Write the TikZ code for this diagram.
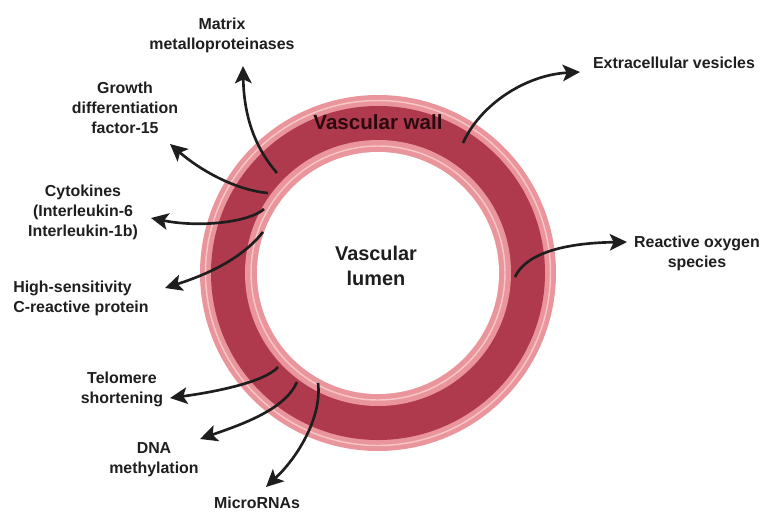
\documentclass[tikz,border=0pt]{standalone}
\usepackage{fontspec}
\setmainfont{Liberation Sans}
\usepackage{xcolor}
\definecolor{wallRed}{HTML}{B03A4D}
\definecolor{wallPink}{HTML}{E9959B}
\definecolor{wallLight}{HTML}{F7C6C6}
\definecolor{wallText}{HTML}{2A0A0F}
\definecolor{ink}{HTML}{1E1E1E}
\usetikzlibrary{arrows.meta,positioning}

\begin{document}
\begin{tikzpicture}[x=0.0265cm,y=-0.0265cm,
  lbl/.style={align=center,font=\bfseries\fontsize{12}{15}\selectfont,text=ink,inner sep=0pt},
  arr/.style={-{Stealth[length=13pt,width=12.5pt,inset=3pt]},line width=2pt,draw=ink}
]
\useasboundingbox (0,0) rectangle (766,513);
% vessel cross-section
\coordinate (c) at (378,273);
\fill[wallPink] (c) circle[radius=178];
\draw[wallLight,line width=1.1pt] (c) circle[radius=172.5];
\fill[wallRed] (c) circle[radius=167];
\fill[wallPink] (c) circle[radius=133];
\draw[wallLight,line width=1.1pt] (c) circle[radius=127];
\fill[white] (c) circle[radius=121];
\node[font=\bfseries\fontsize{15.5}{18}\selectfont,text=wallText] (wall) at (378,122) {Vascular wall};
\node[lbl,font=\bfseries\fontsize{15}{19}\selectfont] (lumen) at (376,266) {Vascular\\lumen};

% markers
\node[lbl] (mmp) at (222,35) {Matrix\\metalloproteinases};
\node[lbl] (gdf) at (125,108) {Growth\\differentiation\\factor-15};
\node[lbl] (cyto) at (83,212) {Cytokines\\(Interleukin-6\\Interleukin-1b)};
\node[lbl,align=left,anchor=west] (crp) at (13,298) {High-sensitivity\\C-reactive protein};
\node[lbl] (telo) at (122,389) {Telomere\\shortening};
\node[lbl] (dna) at (154,460) {DNA\\methylation};
\node[lbl] (mirna) at (257,503) {MicroRNAs};
\node[lbl] (ev) at (674,63) {Extracellular vesicles};
\node[lbl] (ros) at (697,253) {Reactive oxygen\\species};

% arrow ends (start in the wall, tip near the label)
\coordinate (mmpS) at (277,173);  \coordinate (mmpT) at (243,66);
\coordinate (gdfS) at (268,193);  \coordinate (gdfT) at (170,144);
\coordinate (cytoS) at (264,209); \coordinate (cytoT) at (151,218);
\coordinate (crpS) at (263,232);  \coordinate (crpT) at (165,288);
\coordinate (evS) at (463,143);   \coordinate (evT) at (580,72);
\coordinate (rosS) at (515,277);  \coordinate (rosT) at (627,242);
\coordinate (teloS) at (278,367); \coordinate (teloT) at (170,398);
\coordinate (dnaS) at (297,382);  \coordinate (dnaT) at (200,439);
\coordinate (mirS) at (318,383);  \coordinate (mirT) at (266,487);

\draw[arr] (mmpS) .. controls (257,150) and (244,120) .. (mmpT);
\draw[arr] (gdfS) .. controls (235,190) and (200,170) .. (gdfT);
\draw[arr] (cytoS) .. controls (250,222) and (200,228) .. (cytoT);
\draw[arr] (crpS) .. controls (245,255) and (215,272) .. (crpT);
\draw[arr] (evS) .. controls (480,105) and (525,75) .. (evT);
\draw[arr] (rosS) .. controls (525,255) and (560,243) .. (rosT);
\draw[arr] (teloS) .. controls (265,382) and (215,392) .. (teloT);
\draw[arr] (dnaS) .. controls (285,410) and (240,425) .. (dnaT);
\draw[arr] (mirS) .. controls (322,415) and (300,455) .. (mirT);
\end{tikzpicture}
\end{document}
